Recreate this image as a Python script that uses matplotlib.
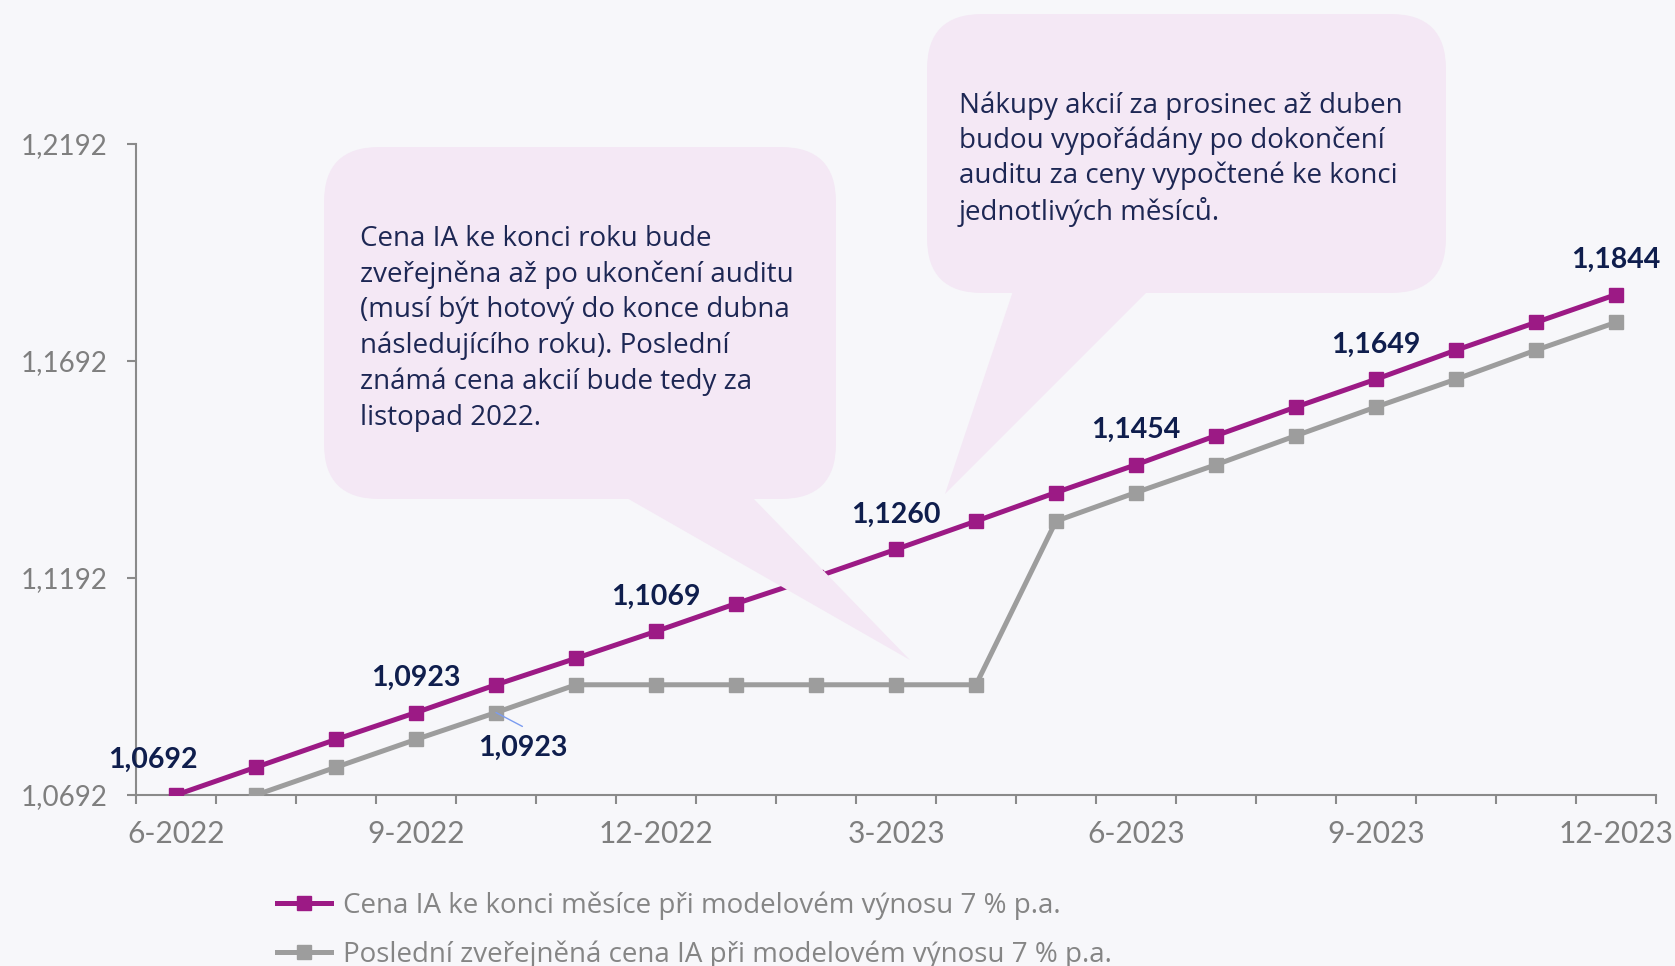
import matplotlib
matplotlib.use("Agg")
import matplotlib.pyplot as plt
from matplotlib.patches import FancyBboxPatch, Polygon
from matplotlib.lines import Line2D

# ---------------- data ----------------
months = ["6-2022", "7-2022", "8-2022", "9-2022", "10-2022", "11-2022", "12-2022",
          "1-2023", "2-2023", "3-2023", "4-2023", "5-2023", "6-2023", "7-2023",
          "8-2023", "9-2023", "10-2023", "11-2023", "12-2023"]
cena_mesic = [1.0692, 1.0756, 1.0820, 1.0882, 1.0946, 1.1007, 1.1069, 1.1133, 1.1194,
              1.1258, 1.1323, 1.1389, 1.1453, 1.1520, 1.1586, 1.1650, 1.1717, 1.1781, 1.1845]
cena_zverejnena = [1.0630, 1.0692, 1.0756, 1.0820, 1.0882, 1.0946, 1.0946, 1.0946, 1.0946,
                   1.0946, 1.0946, 1.1323, 1.1389, 1.1453, 1.1520, 1.1586, 1.1650, 1.1717, 1.1781]
tick_label_idx = [0, 3, 6, 9, 12, 15, 18]
y_ticks = [1.0692, 1.1192, 1.1692, 1.2192]
y_tick_labels = ["1,0692", "1,1192", "1,1692", "1,2192"]
label_idx = [0, 3, 6, 9, 12, 15, 18]
label_texts = ["1,0692", "1,0923", "1,1069", "1,1260", "1,1454", "1,1649", "1,1844"]
gray_label_idx = 4
gray_label_text = "1,0923"
series_names = ["Cena IA ke konci měsíce při modelovém výnosu 7 % p.a.",
                "Poslední zveřejněná cena IA při modelovém výnosu 7 % p.a."]
note1 = ("Cena IA ke konci roku bude\nzveřejněna až po ukončení auditu\n"
         "(musí být hotový do konce dubna\nnásledujícího roku). Poslední\n"
         "známá cena akcií bude tedy za\nlistopad 2022.")
note2 = ("Nákupy akcií za prosinec až duben\nbudou vypořádány po dokončení\n"
         "auditu za ceny vypočtené ke konci\njednotlivých měsíců.")

# ---------------- style ----------------
W, H = 1675, 966
BG = "#f7f7fa"
MAG = "#9c1a85"
GRAY = "#9d9d9d"
AX = "#8a8a8a"
NAVY = "#0f1e4d"
TXT = "#1d2754"
BUBBLE = "#f4e8f5"
FONT = ["Lato", "DejaVu Sans"]
FONT2 = ["Open Sans", "DejaVu Sans"]
plt.rcParams["font.family"] = FONT

fig = plt.figure(figsize=(W / 100, H / 100), dpi=100, facecolor=BG)
L, R, T, B = 136, 1656, 144, 795
ax = fig.add_axes([L / W, 1 - B / H, (R - L) / W, (B - T) / H])
ax.set_facecolor(BG)

x = list(range(len(months)))
ax.plot(x, cena_mesic, color=MAG, lw=3.6, marker="s", ms=9.5, zorder=4, clip_on=True)
ax.plot(x, cena_zverejnena, color=GRAY, lw=3.6, marker="s", ms=9.5, zorder=3, clip_on=True)

ax.set_xlim(-0.5, len(months) - 0.5)
ax.set_ylim(y_ticks[0], y_ticks[-1])

for s in ["top", "right"]:
    ax.spines[s].set_visible(False)
for s in ["left", "bottom"]:
    ax.spines[s].set_color(AX)
    ax.spines[s].set_linewidth(1.5)

ax.set_yticks(y_ticks)
ax.set_yticklabels(y_tick_labels)
ax.tick_params(axis="y", direction="out", length=6.5, width=1.5, color=AX,
               labelcolor="#7f7f7f", labelsize=20, pad=14)
ax.set_xticks(tick_label_idx)
ax.set_xticklabels([months[i] for i in tick_label_idx])
ax.set_xticks([i - 0.5 for i in range(len(months) + 1)], minor=True)
ax.tick_params(axis="x", which="major", length=0, labelcolor="#7f7f7f", labelsize=21.5, pad=18)
ax.tick_params(axis="x", which="minor", direction="out", length=6.5, width=1.5, color=AX)

# data labels
for k, (i, t) in enumerate(zip(label_idx, label_texts)):
    dx = -17 if k == 0 else 0
    ax.annotate(t, (i, cena_mesic[i]), xytext=(dx, 25), textcoords="offset points",
                ha="center", va="center", fontsize=20.5, fontweight="bold", color=NAVY,
                annotation_clip=False, zorder=6)
gi = gray_label_idx
ax.annotate("", (gi, cena_zverejnena[gi]), xytext=(19, -10), textcoords="offset points",
            arrowprops=dict(arrowstyle="-", color="#7b9cf0", lw=1.0, shrinkA=0, shrinkB=0),
            zorder=6)
ax.annotate(gray_label_text, (gi, cena_zverejnena[gi]), xytext=(19, -25.5),
            textcoords="offset points", ha="center", va="center", fontsize=20.5,
            fontweight="bold", color=NAVY, zorder=6)

# ---------------- overlay: callouts ----------------
ov = fig.add_axes([0, 0, 1, 1], zorder=5)
ov.set_xlim(0, W)
ov.set_ylim(H, 0)
ov.axis("off")
ov.patch.set_alpha(0)

def bubble(x0, y0, x1, y1, tail, r=55):
    ov.add_patch(FancyBboxPatch((x0 + r, y0 + r), (x1 - x0) - 2 * r, (y1 - y0) - 2 * r,
                                boxstyle=f"round,pad={r},rounding_size={r}",
                                fc=BUBBLE, ec="none", zorder=1))
    ov.add_patch(Polygon(tail, closed=True, fc=BUBBLE, ec="none", zorder=1))

bubble(324, 147, 836, 499, [(625, 497), (752, 497), (910, 660)])
bubble(927, 14, 1446, 293, [(1013, 291), (1148, 291), (945, 494)])

ov.text(360, 225, note1, ha="left", va="top", fontsize=20, color=TXT,
        linespacing=1.35, zorder=2, family=FONT2)
ov.text(959, 91, note2, ha="left", va="top", fontsize=20, color=TXT,
        linespacing=1.31, zorder=2, family=FONT2)

# ---------------- legend ----------------
handles = [Line2D([], [], color=MAG, lw=3.6, marker="s", ms=9.5),
           Line2D([], [], color=GRAY, lw=3.6, marker="s", ms=9.5)]
leg = fig.legend(handles, series_names, loc="upper left",
                 bbox_to_anchor=(277 / W, 1 - 891 / H), frameon=False,
                 prop={"family": FONT2, "size": 20}, handlelength=1.95,
                 handletextpad=0.42, labelspacing=0.75, borderpad=0, borderaxespad=0)
for t in leg.get_texts():
    t.set_color("#858585")

fig.savefig("out.png", dpi=100, facecolor=BG)
